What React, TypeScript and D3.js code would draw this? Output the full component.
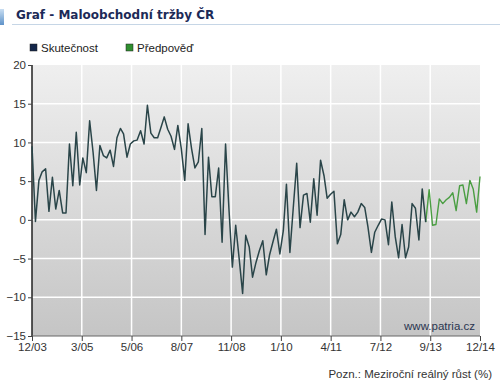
import React, { useEffect, useRef } from "react";
import * as d3 from "d3";

// year-on-year real growth (%), monthly from 12/2003
const actual = [
  9.5, -0.2, 5.1, 6.2, 6.6, 1.1, 5.5, 1.4, 3.8, 0.9, 0.9, 9.8, 4.4, 11.3, 4.5, 8.0, 6.1, 12.8, 8.7, 3.8,
  9.6, 8.3, 8.0, 9.0, 6.9, 10.6, 11.8, 11.1, 8.1, 9.8, 10.2, 10.3, 11.5, 9.8, 14.8, 11.2, 10.6, 10.6, 12.0, 13.3,
  11.7, 10.8, 9.1, 12.2, 9.2, 5.1, 12.4, 9.2, 6.7, 7.5, 11.8, -1.9, 8.1, 3.0, 3.0, 6.7, -2.9, 9.8, 1.5, -6.1,
  -0.7, -5.0, -9.5, -2.0, -3.5, -7.4, -5.5, -4.0, -2.7, -7.1, -4.5, -2.8, -1.2, -4.4, -1.4, 4.6, -4.2, 1.5, 7.3, -1.0,
  3.2, 3.4, -0.3, 5.3, 0.6, 7.7, 5.7, 2.8, 3.3, 3.7, -3.1, -1.9, 2.6, 0.0, 1.0, 0.4, 1.0, 2.1, 1.6, -0.9,
  -4.2, -1.6, -0.7, 0.1, 0.0, -3.2, 2.3, -2.2, -4.9, -0.6, -4.9, -3.5, 2.1, 1.5, -2.6, 4.0, -0.3,
];
// forecast, starts at the last actual month
const forecast = [-0.3, 3.9, -0.7, -0.6, 2.7, 2.1, 2.6, 2.9, 3.5, 1.2, 4.4, 4.5, 2.1, 5.1, 4.0, 1.0, 5.6];

const xTickLabels = ["12/03", "3/05", "5/06", "8/07", "11/08", "1/10", "4/11", "7/12", "9/13", "12/14"];
const yTicks = [-15, -10, -5, 0, 5, 10, 15, 20];

const W = 500;
const H = 389;
const margin = { left: 32, right: 20, top: 65, bottom: 53 };

const monthDate = (i: number) => new Date(2003, 11 + i, 1);

const App = () => {
  const ref = useRef<SVGSVGElement>(null);

  useEffect(() => {
    const svg = d3.select(ref.current);
    svg.selectAll("*").remove();

    const t0 = monthDate(0);
    const t1 = monthDate(132);
    const x = d3.scaleTime().domain([t0, t1]).range([margin.left, W - margin.right]);
    const y = d3.scaleLinear().domain([-15, 20]).range([H - margin.bottom, margin.top]);

    const defs = svg.append("defs");
    const bg = defs.append("linearGradient").attr("id", "plotbg").attr("x1", 0).attr("x2", 0).attr("y1", 0).attr("y2", 1);
    bg.append("stop").attr("offset", "0%").attr("stop-color", "#efefef");
    bg.append("stop").attr("offset", "100%").attr("stop-color", "#c5c5c5");
    const acc = defs.append("linearGradient").attr("id", "accent").attr("x1", 0).attr("x2", 0).attr("y1", 0).attr("y2", 1);
    acc.append("stop").attr("offset", "0%").attr("stop-color", "#c9def2");
    acc.append("stop").attr("offset", "100%").attr("stop-color", "#5f93c9");

    svg.append("rect").attr("width", W).attr("height", H).attr("fill", "#fff");

    // header
    svg.append("rect").attr("x", 0).attr("y", 9).attr("width", 4).attr("height", 16).attr("fill", "url(#accent)");
    svg.append("line").attr("x1", 12).attr("x2", W).attr("y1", 24.5).attr("y2", 24.5)
      .attr("stroke", "#c6d6e6").attr("stroke-width", 1);
    svg.append("text").attr("x", 16).attr("y", 19)
      .attr("font-family", "DejaVu Sans, Verdana, sans-serif").attr("font-weight", "bold").attr("font-size", 12)
      .attr("fill", "#1c2a57").text("Graf - Maloobchodní tržby ČR");

    const font = "Liberation Sans, Arial, sans-serif";

    // legend
    const legend = [
      { name: "Skutečnost", color: "#13264a", x: 30 },
      { name: "Předpověď", color: "#2f8f2f", x: 126 },
    ];
    const lg = svg.selectAll("g.legend").data(legend).join("g").attr("class", "legend");
    lg.append("rect").attr("x", (d) => d.x).attr("y", 44).attr("width", 7).attr("height", 7)
      .attr("fill", (d) => d.color).attr("stroke", "#222").attr("stroke-width", 0.5);
    lg.append("text").attr("x", (d) => d.x + 11).attr("y", 51.5).attr("font-family", font).attr("font-size", 11.5)
      .attr("fill", "#222").text((d) => d.name);

    // plot background
    svg.append("rect").attr("x", margin.left).attr("y", margin.top)
      .attr("width", W - margin.right - margin.left).attr("height", H - margin.bottom - margin.top)
      .attr("fill", "url(#plotbg)");

    const xTicks = xTickLabels.map((label, k) => ({
      label,
      date: new Date(+t0 + (k * (+t1 - +t0)) / (xTickLabels.length - 1)),
    }));

    // grid
    svg.append("g").selectAll("line").data(yTicks.slice(1, -1)).join("line")
      .attr("x1", margin.left).attr("x2", W - margin.right)
      .attr("y1", (d) => y(d)).attr("y2", (d) => y(d))
      .attr("stroke", "#fff").attr("stroke-width", 1.5);
    svg.append("g").selectAll("line").data(xTicks.slice(1, -1)).join("line")
      .attr("x1", (d) => x(d.date)).attr("x2", (d) => x(d.date))
      .attr("y1", margin.top).attr("y2", H - margin.bottom)
      .attr("stroke", "#fff").attr("stroke-width", 1.5);

    // axes
    const yAxis = svg.append("g").attr("transform", `translate(${margin.left},0)`)
      .call(d3.axisLeft(y).tickValues(yTicks).tickSize(4).tickPadding(2));
    const xAxis = svg.append("g").attr("transform", `translate(0,${H - margin.bottom})`)
      .call(
        d3.axisBottom(x).tickValues(xTicks.map((d) => d.date)).tickSize(5).tickPadding(2)
          .tickFormat((_, i) => xTickLabels[i])
      );
    [yAxis, xAxis].forEach((a) => {
      a.selectAll("text").attr("font-family", font).attr("font-size", 11.5).attr("fill", "#333");
      a.selectAll("line").attr("stroke", "#444");
    });
    yAxis.select(".domain").attr("stroke", "#222").attr("d", `M0,${margin.top}V${H - margin.bottom}`).attr("stroke-width", 1.5);
    xAxis.select(".domain").attr("stroke", "#666").attr("d", `M${margin.left},0H${W - margin.right}`);

    // lines
    const line = d3.line<[Date, number]>().x((d) => x(d[0])).y((d) => y(d[1]));
    const actualPts = actual.map((v, i) => [monthDate(i), v] as [Date, number]);
    const forecastPts = forecast.map((v, i) => [monthDate(actual.length - 1 + i), v] as [Date, number]);

    svg.append("path").datum(forecastPts).attr("d", line).attr("fill", "none")
      .attr("stroke", "#4a9e42").attr("stroke-width", 1.4).attr("stroke-linejoin", "round");
    svg.append("path").datum(actualPts).attr("d", line).attr("fill", "none")
      .attr("stroke", "#2a4549").attr("stroke-width", 1.5).attr("stroke-linejoin", "round");

    // credits
    svg.append("text").attr("x", W - margin.right - 5).attr("y", H - margin.bottom - 6)
      .attr("text-anchor", "end").attr("font-family", font).attr("font-size", 11.5).attr("fill", "#2a3550")
      .text("www.patria.cz");
    svg.append("text").attr("x", W - 8).attr("y", 378)
      .attr("text-anchor", "end").attr("font-family", font).attr("font-size", 11.5).attr("fill", "#333")
      .text("Pozn.: Meziroční reálný růst (%)");
  }, []);

  return <svg ref={ref} width={W} height={H} style={{ position: "absolute", left: 0, top: 0 }} />;
};

export default App;
